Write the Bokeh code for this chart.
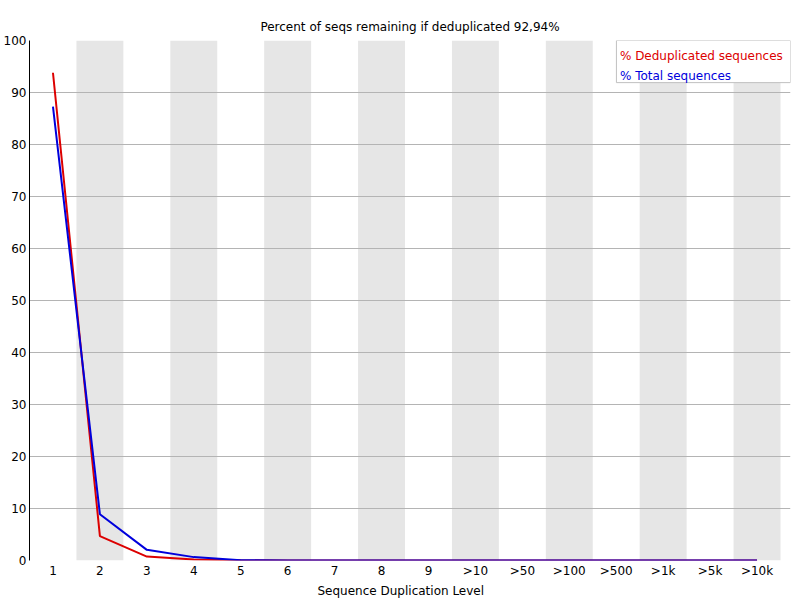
from bokeh.plotting import figure
from bokeh.models import Range1d, FixedTicker, Label, BoxAnnotation, Title
from bokeh.embed import file_html
from bokeh.resources import INLINE

# ---- data ----
categories = ["1", "2", "3", "4", "5", "6", "7", "8", "9",
              ">10", ">50", ">100", ">500", ">1k", ">5k", ">10k"]
dedup_pct = [93.8, 4.7, 0.75, 0.2, 0.03, 0.01, 0.0, 0.0, 0.0,
             0.0, 0.0, 0.0, 0.0, 0.0, 0.0, 0.0]
total_pct = [87.3, 8.9, 2.05, 0.65, 0.05, 0.02, 0.01, 0.0, 0.0,
             0.0, 0.0, 0.0, 0.0, 0.0, 0.0, 0.0]
y_ticks = [0, 10, 20, 30, 40, 50, 60, 70, 80, 90, 100]
title_text = "Percent of seqs remaining if deduplicated 92,94%"
x_label_text = "Sequence Duplication Level"
series_names = ["% Deduplicated sequences", "% Total sequences"]
series_colors = ["#dc0000", "#0000dc"]

FONT = "DejaVu Sans"
xs = list(range(1, len(categories) + 1))
band_x = [x for x in xs if x % 2 == 0]

x_start = 0.5
x_end = 0.5 + 762 / 47

p = figure(width=800, height=600, output_backend="svg", toolbar_location=None,
           x_range=Range1d(x_start, x_end), y_range=Range1d(0, 100),
           min_border_left=28, min_border_right=10, min_border_top=40, min_border_bottom=40)
p.outline_line_color = None
p.background_fill_color = "white"
p.border_fill_color = "white"

p.title.text = title_text
p.title.align = "center"
p.title.text_font = FONT
p.title.text_font_size = "12px"
p.title.text_font_style = "normal"
p.title.text_color = "black"
p.title.standoff = 14

# alternating bands
p.vbar(x=band_x, top=100, bottom=0, width=1, fill_color="#e6e6e6", line_color=None, level="image")

# x axis
p.xaxis.ticker = FixedTicker(ticks=xs)
p.xaxis.major_label_overrides = {x: c for x, c in zip(xs, categories)}
p.xaxis.axis_line_color = None
p.xaxis.major_tick_line_color = None
p.xaxis.minor_tick_line_color = None
p.xaxis.major_tick_out = 0
p.xaxis.major_tick_in = 0
p.xaxis.minor_tick_out = 0
p.xaxis.major_label_standoff = 3
p.xaxis.major_label_text_font = FONT
p.xaxis.major_label_text_font_size = "12px"
p.xaxis.major_label_text_color = "black"
p.xgrid.visible = False

# y axis
p.yaxis.ticker = FixedTicker(ticks=y_ticks)
p.yaxis.major_label_text_font = FONT
p.yaxis.major_label_text_font_size = "12px"
p.yaxis.major_label_text_color = "black"
p.yaxis.major_label_standoff = 3
p.yaxis.major_tick_line_color = None
p.yaxis.minor_tick_line_color = None
p.yaxis.major_tick_out = 0
p.yaxis.major_tick_in = 0
p.yaxis.minor_tick_out = 0
p.yaxis.axis_line_color = "black"
p.ygrid.grid_line_color = "#b4b4b4"
p.ygrid.grid_line_width = 1

# series
p.line(xs, dedup_pct, line_color=series_colors[0], line_width=2)
p.line(xs, total_pct, line_color=series_colors[1], line_width=2)

# legend box
p.add_layout(BoxAnnotation(left=13.004, right=x_end, top=100, bottom=91.9,
                           fill_color="white", fill_alpha=1.0,
                           line_color="#c0c0c0", line_width=1, line_alpha=1.0))
p.add_layout(Label(x=13.004 + 3.5 / 47, y=97.0, text=series_names[0],
                   text_color=series_colors[0], text_font=FONT, text_font_size="12px",
                   text_baseline="alphabetic"))
p.add_layout(Label(x=13.004 + 3.5 / 47, y=93.2, text=series_names[1],
                   text_color=series_colors[1], text_font=FONT, text_font_size="12px",
                   text_baseline="alphabetic"))

# x axis title
p.add_layout(Title(text=x_label_text, align="left", offset=288, standoff=3,
                   text_font=FONT, text_font_size="12px", text_font_style="normal",
                   text_color="black"), "below")

open("out.html", "w").write(file_html(p, INLINE))
